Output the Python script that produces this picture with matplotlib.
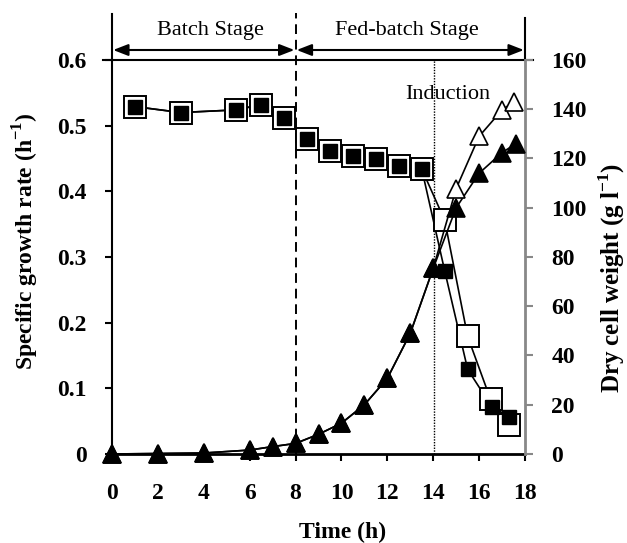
import matplotlib
matplotlib.use("Agg")
import matplotlib.pyplot as plt

plt.rcParams['font.family'] = ['Liberation Serif', 'DejaVu Serif']
plt.rcParams['mathtext.fontset'] = 'custom'
plt.rcParams['mathtext.rm'] = 'Liberation Serif'
plt.rcParams['mathtext.bf'] = 'Liberation Serif:bold'

# ---- data ----
t_mu_filled = [1, 3, 5.4, 6.5, 7.5, 8.5, 9.5, 10.5, 11.5, 12.5, 13.5, 14.5, 15.5, 16.55, 17.3]
mu_filled = [0.529, 0.520, 0.524, 0.532, 0.511, 0.479, 0.462, 0.454, 0.449, 0.438, 0.434,
             0.279, 0.129, 0.072, 0.057]
t_mu_open = [1, 3, 5.4, 6.5, 7.5, 8.5, 9.5, 10.5, 11.5, 12.5, 13.5, 14.5, 15.5, 16.5, 17.3]
mu_open = [0.529, 0.520, 0.524, 0.532, 0.511, 0.479, 0.462, 0.454, 0.449, 0.438, 0.434,
           0.356, 0.179, 0.083, 0.044]

t_dcw_filled = [0, 2, 4, 6, 7, 8, 9, 10, 11, 12, 13, 14, 15, 16, 17, 17.6]
dcw_filled = [0, 0.2, 0.4, 1.6, 3.0, 4.3, 8.0, 12.5, 20.0, 30.7, 49.0, 75.4, 100, 114, 122.4, 126]
t_dcw_open = [0, 2, 4, 6, 7, 8, 9, 10, 11, 12, 13, 14, 15, 16, 17, 17.5]
dcw_open = [0, 0.2, 0.4, 1.6, 3.0, 4.3, 8.0, 12.5, 20.0, 30.7, 49.0, 75.4, 107.8, 129, 139.7, 143]

x_ticks = [0, 2, 4, 6, 8, 10, 12, 14, 16, 18]
y_left_ticks = [0, 0.1, 0.2, 0.3, 0.4, 0.5, 0.6]
y_left_labels = ['0', '0.1', '0.2', '0.3', '0.4', '0.5', '0.6']
y_right_ticks = [0, 20, 40, 60, 80, 100, 120, 140, 160]

batch_end = 8
induction_time = 14.05

fig = plt.figure(figsize=(6.27, 5.43), dpi=100)
ax = fig.add_axes([112/627, 1-454/543, (525-112)/627, (454-60)/543])
ax2 = ax.twinx()

ax.set_xlim(0, 18)
ax.set_ylim(0, 0.6)
ax2.set_ylim(0, 160)

# squares (left axis)
ax.plot(t_mu_open, mu_open, color='black', lw=1.2, zorder=2)
ax.plot(t_mu_filled, mu_filled, color='black', lw=1.2, zorder=2)
ax.plot(t_mu_open, mu_open, ls='none', marker='s', ms=15.5, mfc='white', mec='black', mew=1.4,
        zorder=3, clip_on=False)
ax.plot(t_mu_filled, mu_filled, ls='none', marker='s', ms=10, mfc='black', mec='black', mew=1,
        zorder=4, clip_on=False)

# triangles (right axis)
ax2.plot(t_dcw_open, dcw_open, color='black', lw=1.2, zorder=2)
ax2.plot(t_dcw_filled, dcw_filled, color='black', lw=1.2, zorder=2)
ax2.plot(t_dcw_open, dcw_open, ls='none', marker='^', ms=12.5, mfc='white', mec='black', mew=1.2,
         zorder=3, clip_on=False)
ax2.plot(t_dcw_filled, dcw_filled, ls='none', marker='^', ms=12.5, mfc='black', mec='black', mew=1.2,
         zorder=4, clip_on=False)

# vertical lines
ax.plot([batch_end, batch_end], [0, 0.6 * (454 - 13) / 394], color='black', lw=1.4,
        ls=(0, (5, 3)), clip_on=False, zorder=1)
ax.plot([induction_time, induction_time], [0, 0.6], color='black', lw=1.0,
        ls=(0, (1, 1)), zorder=1)

# frame extensions
ytop_ext = 0.6 * (454 - 14) / 394
ax.plot([0, 0], [0.6, ytop_ext], color='black', lw=1.5, clip_on=False)
ax.plot([18, 18], [0.6, 0.6 * (454 - 18) / 394], color='black', lw=1.5, clip_on=False)
ax.plot([-0.4, 18.35], [0.6, 0.6], color='black', lw=1.5, clip_on=False)

# stage arrows
yarr = 0.6 * (454 - 50) / 394
arrow_kw = dict(arrowstyle='<|-|>,head_length=0.9,head_width=0.35', color='black', lw=1.5,
                shrinkA=0, shrinkB=0)
ax.annotate('', xy=(0.05, yarr), xytext=(7.95, yarr), arrowprops=arrow_kw, annotation_clip=False)
ax.annotate('', xy=(8.05, yarr), xytext=(17.95, yarr), arrowprops=arrow_kw, annotation_clip=False)
ytxt = 0.6 * (454 - 30) / 394
ax.text(4.27, ytxt, 'Batch Stage', ha='center', va='center', fontsize=16)
ax.text(12.85, ytxt, 'Fed-batch Stage', ha='center', va='center', fontsize=16)
ax.text(14.65, 0.547, 'Induction', ha='center', va='center', fontsize=16)

# spines
ax.spines['top'].set_visible(False)
ax2.spines['top'].set_visible(False)
ax.spines['left'].set_linewidth(1.5)
ax.spines['bottom'].set_linewidth(2.0)
ax.spines['right'].set_visible(False)
ax2.spines['left'].set_visible(False)
ax2.spines['bottom'].set_visible(False)
ax2.spines['right'].set_color('#888888')
ax2.spines['right'].set_linewidth(2.0)

ax.set_xticks(x_ticks)
ax.set_xticklabels([str(v) for v in x_ticks], fontsize=17, fontweight='bold')
ax.set_yticks(y_left_ticks)
ax.set_yticklabels(y_left_labels, fontsize=17, fontweight='bold')
ax2.set_yticks(y_right_ticks)
ax2.set_yticklabels([str(v) for v in y_right_ticks], fontsize=17, fontweight='bold')

ax.tick_params(axis='x', direction='out', length=5, width=1.5, pad=16)
ax.tick_params(axis='y', direction='out', length=5, width=1.5, pad=13)
ax2.tick_params(axis='y', direction='out', length=6, width=1.5, color='#888888', pad=13)

fig.text(343/627, 1 - 532/543, 'Time (h)', ha='center', va='center', fontsize=17, fontweight='bold')
fig.text(26/627, 1 - 241/543, r'Specific growth rate (h$^{\mathbf{-1}}$)', ha='center', va='center',
         rotation=90, fontsize=17, fontweight='bold')
fig.text(612/627, 1 - 278/543, r'Dry cell weight (g l$^{\mathbf{-1}}$)', ha='center', va='center',
         rotation=90, fontsize=18, fontweight='bold')

fig.savefig('out.png', dpi=100)
